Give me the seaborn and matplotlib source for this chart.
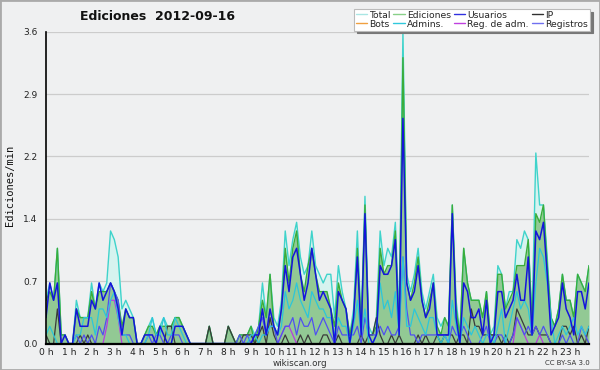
import numpy as np
import pandas as pd
import matplotlib
matplotlib.use("Agg")
import matplotlib.pyplot as plt
import seaborn as sns
from matplotlib.lines import Line2D
from matplotlib.patches import Rectangle

# ---- data (edits per minute, 10-minute buckets, 0:00 .. 23:50) ----
total = [0.5,0.7,0.5,1.1,0.1,0.1,0.0,0.0,0.5,0.3,0.3,0.3,0.7,0.4,0.7,0.6,0.7,1.3,1.2,1.0,
         0.4,0.5,0.4,0.3,0.0,0.0,0.1,0.2,0.3,0.1,0.2,0.3,0.2,0.2,0.3,0.3,0.2,0.1,0.0,0.0,
         0.0,0.0,0.0,0.2,0.0,0.0,0.0,0.0,0.2,0.1,0.0,0.1,0.1,0.1,0.2,0.1,0.2,0.7,0.3,0.8,
         0.3,0.2,0.5,1.3,0.9,1.2,1.4,1.0,0.8,0.9,1.3,0.9,0.8,0.7,0.8,0.8,0.3,0.9,0.6,0.4,
         0.1,0.4,1.3,0.2,1.7,0.2,0.1,0.3,1.3,0.9,1.1,1.0,1.4,0.3,3.6,0.8,0.6,0.8,1.1,0.6,
         0.4,0.6,0.8,0.3,0.2,0.3,0.2,1.6,0.5,0.1,1.1,0.7,0.5,0.5,0.5,0.3,0.6,0.1,0.2,0.9,
         0.8,0.4,0.6,0.6,1.2,1.1,1.3,1.2,0.3,2.2,1.6,1.6,1.0,0.3,0.2,0.4,0.8,0.5,0.5,0.3,
         0.8,0.7,0.6,0.9]
ediciones = [0.5,0.6,0.5,1.1,0.1,0.1,0.0,0.0,0.4,0.3,0.3,0.3,0.6,0.4,0.6,0.6,0.6,0.7,0.6,0.5,
             0.2,0.4,0.3,0.3,0.0,0.0,0.1,0.2,0.2,0.1,0.2,0.2,0.2,0.2,0.3,0.3,0.2,0.1,0.0,0.0,
             0.0,0.0,0.0,0.2,0.0,0.0,0.0,0.0,0.2,0.1,0.0,0.1,0.1,0.1,0.2,0.0,0.2,0.5,0.3,0.8,
             0.2,0.1,0.4,1.1,0.7,1.1,1.3,0.8,0.6,0.9,1.1,0.8,0.6,0.6,0.6,0.4,0.2,0.7,0.5,0.4,
             0.1,0.3,1.1,0.2,1.6,0.1,0.1,0.2,1.1,0.8,0.9,0.9,1.3,0.1,3.3,0.7,0.5,0.7,1.0,0.5,
             0.3,0.5,0.7,0.2,0.1,0.3,0.2,1.6,0.4,0.1,1.1,0.7,0.5,0.5,0.5,0.3,0.6,0.1,0.1,0.8,
             0.8,0.4,0.5,0.6,0.9,0.9,0.9,1.2,0.2,1.5,1.4,1.6,0.9,0.3,0.2,0.4,0.8,0.5,0.5,0.3,
             0.8,0.7,0.6,0.9]
usuarios = [0.3,0.7,0.5,0.7,0.0,0.1,0.0,0.0,0.4,0.2,0.2,0.2,0.5,0.4,0.7,0.5,0.6,0.7,0.6,0.4,
            0.1,0.4,0.3,0.3,0.0,0.0,0.1,0.1,0.1,0.0,0.2,0.1,0.0,0.0,0.2,0.2,0.2,0.1,0.0,0.0,
            0.0,0.0,0.0,0.0,0.0,0.0,0.0,0.0,0.0,0.0,0.0,0.0,0.0,0.0,0.0,0.1,0.1,0.4,0.1,0.4,
            0.2,0.1,0.4,0.9,0.6,1.0,1.1,0.8,0.5,0.7,1.1,0.8,0.5,0.6,0.5,0.4,0.0,0.6,0.5,0.4,
            0.0,0.3,1.0,0.1,1.5,0.1,0.0,0.1,0.9,0.8,0.8,0.9,1.2,0.1,2.6,0.7,0.5,0.6,0.9,0.5,
            0.3,0.4,0.7,0.1,0.1,0.1,0.1,1.5,0.3,0.0,0.7,0.6,0.3,0.3,0.4,0.1,0.5,0.0,0.1,0.6,
            0.6,0.3,0.4,0.5,0.8,0.5,0.5,1.0,0.1,1.3,1.2,1.4,0.8,0.1,0.2,0.3,0.7,0.4,0.3,0.1,
            0.6,0.6,0.4,0.7]
admins = [0.1,0.2,0.1,0.0,0.0,0.0,0.0,0.0,0.1,0.1,0.3,0.3,0.3,0.1,0.4,0.4,0.3,0.5,0.6,0.3,
          0.1,0.1,0.0,0.0,0.0,0.0,0.0,0.1,0.3,0.1,0.1,0.3,0.1,0.1,0.3,0.2,0.1,0.0,0.0,0.0,
          0.0,0.0,0.0,0.0,0.0,0.0,0.0,0.0,0.0,0.0,0.0,0.0,0.0,0.0,0.1,0.1,0.0,0.1,0.1,0.2,
          0.2,0.1,0.2,0.6,0.4,0.5,0.7,0.5,0.4,0.3,0.6,0.5,0.4,0.4,0.3,0.3,0.1,0.3,0.2,0.2,
          0.0,0.2,0.5,0.1,0.4,0.0,0.0,0.1,0.7,0.4,0.5,0.3,0.6,0.1,1.0,0.2,0.2,0.4,0.3,0.2,
          0.1,0.3,0.3,0.1,0.0,0.1,0.0,0.5,0.2,0.0,0.3,0.2,0.1,0.2,0.1,0.0,0.1,0.1,0.0,0.2,
          0.4,0.0,0.2,0.4,0.6,0.4,0.5,0.4,0.1,0.7,1.1,1.0,0.7,0.3,0.0,0.1,0.2,0.1,0.2,0.3,
          0.1,0.2,0.1,0.2]
registros = [0.0,0.0,0.0,0.0,0.0,0.0,0.0,0.0,0.1,0.0,0.1,0.0,0.1,0.0,0.2,0.1,0.3,0.7,0.6,0.5,
             0.1,0.1,0.1,0.0,0.0,0.0,0.0,0.1,0.0,0.1,0.1,0.0,0.0,0.1,0.1,0.1,0.0,0.0,0.0,0.0,
             0.0,0.0,0.0,0.0,0.0,0.0,0.0,0.0,0.0,0.0,0.0,0.1,0.0,0.1,0.0,0.1,0.2,0.3,0.1,0.2,
             0.2,0.0,0.1,0.2,0.2,0.3,0.1,0.3,0.2,0.2,0.3,0.1,0.2,0.3,0.2,0.1,0.0,0.2,0.1,0.1,
             0.1,0.1,0.2,0.0,0.3,0.1,0.1,0.1,0.2,0.1,0.2,0.1,0.1,0.2,1.0,0.4,0.1,0.1,0.0,0.1,
             0.1,0.1,0.1,0.1,0.1,0.1,0.0,0.2,0.1,0.1,0.2,0.1,0.0,0.0,0.0,0.1,0.2,0.0,0.0,0.1,
             0.1,0.0,0.0,0.1,0.3,0.2,0.1,0.2,0.1,0.2,0.1,0.2,0.1,0.0,0.0,0.0,0.1,0.0,0.1,0.0,
             0.0,0.2,0.1,0.0]
ip = [0.1,0.0,0.0,0.4,0.0,0.0,0.0,0.0,0.0,0.1,0.0,0.1,0.0,0.0,0.0,0.0,0.0,0.0,0.0,0.0,
      0.0,0.0,0.0,0.0,0.0,0.0,0.0,0.0,0.0,0.0,0.0,0.0,0.2,0.2,0.0,0.0,0.0,0.0,0.0,0.0,
      0.0,0.0,0.0,0.2,0.0,0.0,0.0,0.0,0.2,0.1,0.0,0.0,0.1,0.1,0.1,0.0,0.1,0.2,0.0,0.3,
      0.1,0.0,0.0,0.1,0.0,0.0,0.0,0.1,0.0,0.1,0.0,0.0,0.0,0.1,0.1,0.0,0.0,0.1,0.0,0.0,
      0.0,0.0,0.0,0.1,0.0,0.1,0.1,0.3,0.1,0.0,0.0,0.1,0.0,0.1,0.0,0.0,0.0,0.0,0.1,0.0,
      0.1,0.0,0.0,0.1,0.0,0.1,0.1,0.1,0.0,0.1,0.1,0.0,0.4,0.2,0.2,0.1,0.1,0.1,0.1,0.1,
      0.0,0.1,0.0,0.1,0.4,0.3,0.2,0.1,0.1,0.2,0.1,0.1,0.1,0.0,0.0,0.0,0.2,0.2,0.1,0.2,
      0.0,0.1,0.0,0.2]
reg_adm = [0.0]*16 + [0.2,0.5,0.5,0.3] + [0.0]*42 + [0.1,0.2,0.2,0.1] + [0.0]*58 + \
          [0.3,0.2,0.1] + [0.0]*3 + [0.1] + [0.0]*13
bots = [0.0]*144
hour_labels = [f"{h} h" for h in range(24)]
y_ticks = [0.0, 0.72, 1.44, 2.16, 2.88, 3.6]

n = len(total)
minutes = np.arange(n) * 10
df = pd.DataFrame({"hora": minutes / 60.0, "Total": total, "Ediciones": ediciones,
                   "Usuarios": usuarios, "IP": ip, "Bots": bots, "Admins.": admins,
                   "Reg. de adm.": reg_adm, "Registros": registros})

bg = "#eff0f1"
sns.set_style("white")
plt.rcParams["font.family"] = ["DejaVu Sans"]

fig = plt.figure(figsize=(6, 3.7), dpi=100, facecolor=bg)
ax = fig.add_axes([46/600, 26.4/370, 543/600, 311.9/370])
ax.set_facecolor(bg)

# fills
ax.fill_between(df["hora"], df["Total"], color="#d6f3ef", lw=0, zorder=1)
ax.fill_between(df["hora"], df["Ediciones"], color="#8fc78f", alpha=0.95, lw=0, zorder=2)

line_styles = [("Total", "#3fd3cb", 1.0), ("Ediciones", "#3aad3a", 1.0),
               ("IP", "#3a3a3a", 0.9), ("Reg. de adm.", "#b83be0", 0.9),
               ("Registros", "#5050f0", 0.9), ("Admins.", "#2cc6da", 0.9),
               ("Usuarios", "#1414dc", 1.1)]
for i, (name, col, lw) in enumerate(line_styles):
    sns.lineplot(data=df, x="hora", y=name, color=col, lw=lw, ax=ax, zorder=3 + i,
                 legend=False)

ax.set_xlim(0, (n - 1) / 6.0)
ax.set_ylim(0, 3.6)
ax.set_xlabel("")
ax.set_ylabel("")
ax.set_xticks(range(24))
ax.set_xticklabels(hour_labels, fontsize=6.6)
ax.set_xticks(np.arange(0, n) / 6.0, minor=True)
ax.set_yticks(y_ticks)
ax.set_yticklabels([f"{v:.1f}" for v in y_ticks], fontsize=6.5)
ax.set_yticks(np.arange(0.36, 3.6, 0.72), minor=True)
ax.tick_params(axis="x", which="major", length=3.5, width=1, pad=0, direction="out")
ax.tick_params(axis="x", which="minor", length=3, width=0.8, direction="out")
ax.tick_params(axis="y", which="major", length=5, width=1, pad=1)
ax.tick_params(axis="y", which="minor", length=4, width=1)
ax.tick_params(axis="both", colors="black", labelcolor="#222222")
ax.grid(axis="y", color="#cccccc", lw=0.9, zorder=0)
ax.set_axisbelow(True)
for s in ["top", "right"]:
    ax.spines[s].set_visible(False)
ax.spines["left"].set_linewidth(1.2)
ax.spines["bottom"].set_linewidth(1.6)
for s in ["left", "bottom"]:
    ax.spines[s].set_color("black")
    ax.spines[s].set_zorder(20)

# legend
leg_items = [("Total", "#a9e6e4"), ("Bots", "#f0a040"), ("Ediciones", "#88d088"),
             ("Admins.", "#30c8dc"), ("Usuarios", "#3030e0"), ("Reg. de adm.", "#c040e0"),
             ("IP", "#303030"), ("Registros", "#7070f0")]
handles = [Line2D([0], [0], color=c, lw=1.0) for _, c in leg_items]
leg = fig.legend(handles, [l for l, _ in leg_items], ncol=4, loc="upper right",
                 bbox_to_anchor=(0.983, 0.976), fontsize=6.7, frameon=True,
                 fancybox=False, shadow={"color": "#777777", "alpha": 1},
                 handlelength=1.2, handletextpad=0.25, columnspacing=0.3,
                 labelspacing=0.0, borderpad=0.2, borderaxespad=0)
leg.get_frame().set_edgecolor("#bbbbbb")
leg.get_frame().set_linewidth(0.8)
leg.get_frame().set_facecolor("white")
leg.set_zorder(30)

fig.text(157/600, 1 - 17/370, "Ediciones  2012-09-16", ha="center", va="center",
         fontsize=9, fontweight="bold", color="#111111")
fig.text(10/600, 0.5, "Ediciones/min", rotation=90, ha="center", va="center",
         fontsize=7.5, family="DejaVu Sans Mono", color="#111111")
fig.text(300/600, 1 - 363/370, "wikiscan.org", ha="center", va="center",
         fontsize=6.3, color="#333333")
fig.text(590/600, 1 - 363/370, "CC BY-SA 3.0", ha="right", va="center",
         fontsize=5, color="#333333")
fig.patches.append(Rectangle((0, 0), 1, 1, transform=fig.transFigure, fill=False,
                             edgecolor="#aaaaaa", lw=2))

fig.savefig("out.png", dpi=100, facecolor=bg)
